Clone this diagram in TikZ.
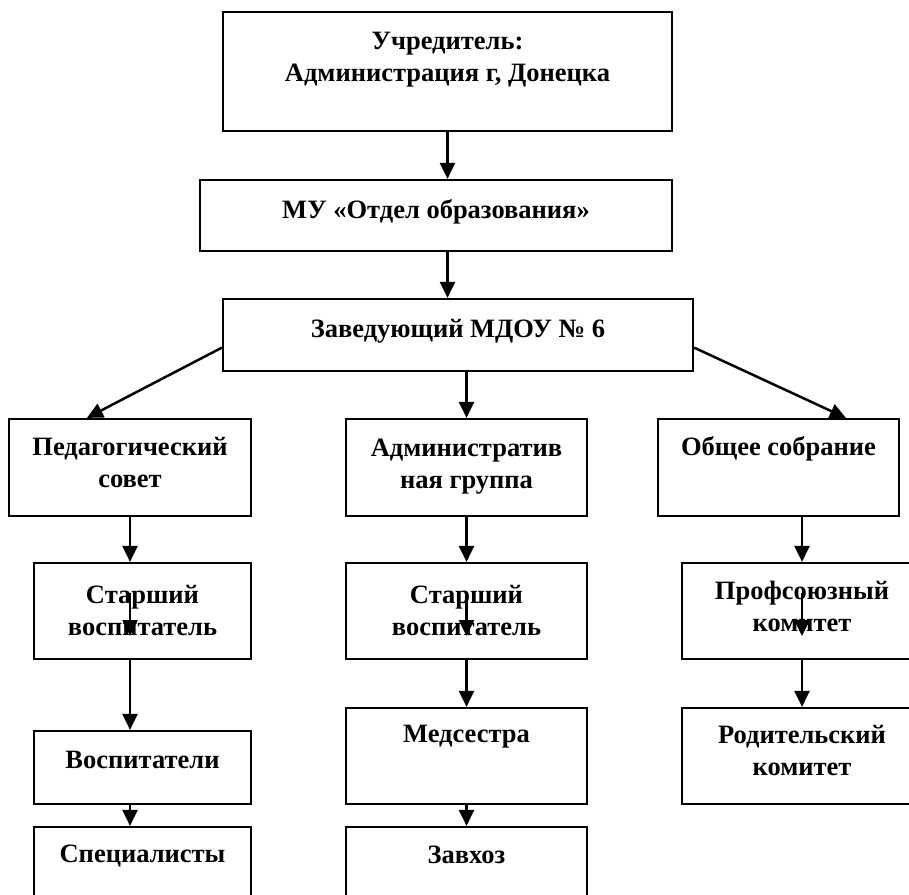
\documentclass[tikz,border=0pt]{standalone}
\usepackage{fontspec}
\setmainfont{Liberation Serif}
\usetikzlibrary{arrows.meta,calc}

\tikzset{
  blok/.style={draw, line width=2.2pt, rectangle, inner sep=0pt},
  txt/.style={align=center, inner sep=0pt, font=\fontsize{26.5}{32}\selectfont\bfseries},
  strelka/.style={line width=2.5pt, -{Triangle[width=15pt,length=16pt]}}
}

\begin{document}
\begin{tikzpicture}[x=1pt,y=-1pt]
  \path[use as bounding box, clip] (0,0) rectangle (909,894);
  % boxes
  \node[blok, minimum width=449pt, minimum height=119pt] (uch) at (447.5,71.5) {};
  \node[blok, minimum width=472pt, minimum height=71pt] (mu) at (436,215.5) {};
  \node[blok, minimum width=470pt, minimum height=72pt] (zav) at (458,335) {};
  \node[blok, minimum width=242pt, minimum height=97pt] (ped) at (130,467.5) {};
  \node[blok, minimum width=217pt, minimum height=96pt] (st1) at (142.5,611) {};
  \node[blok, minimum width=217pt, minimum height=73pt] (vos) at (142.5,767.5) {};
  \node[blok, minimum width=217pt, minimum height=96pt] (spec) at (142.5,875) {};
  \node[blok, minimum width=241pt, minimum height=97pt] (adm) at (466.5,467.5) {};
  \node[blok, minimum width=241pt, minimum height=96pt] (st2) at (466.5,611) {};
  \node[blok, minimum width=241pt, minimum height=96pt] (med) at (466.5,756) {};
  \node[blok, minimum width=241pt, minimum height=96pt] (zavh) at (466.5,875) {};
  \node[blok, minimum width=241pt, minimum height=97pt] (ob) at (778.5,467.5) {};
  \node[blok, minimum width=240pt, minimum height=96pt] (prof) at (802,611) {};
  \node[blok, minimum width=240pt, minimum height=96pt] (rod) at (802,756) {};

  % texts
  \node[txt] (uch-t) at (447.5,60) {Учредитель:\\Администрация г, Донецка};
  \node[txt] (mu-t) at (436,212) {МУ «Отдел образования»};
  \node[txt] (zav-t) at (458,331) {Заведующий МДОУ № 6};
  \node[txt] (ped-t) at (130,462.5) {Педагогический\\совет};
  \node[txt] (st1-t) at (142.5,610) {Старший\\воспитатель};
  \node[txt] (vos-t) at (142.5,760) {Воспитатели};
  \node[txt] (spec-t) at (142.5,856) {Специалисты};
  \node[txt] (adm-t) at (466.5,467) {Административ\\ная группа};
  \node[txt] (st2-t) at (466.5,610) {Старший\\воспитатель};
  \node[txt] (med-t) at (466.5,737) {Медсестра};
  \node[txt] (zavh-t) at (466.5,855) {Завхоз};
  \node[txt] (ob-t) at (778.5,449) {Общее собрание};
  \node[txt] (prof-t) at (802,606) {Профсоюзный\\комитет};
  \node[txt] (rod-t) at (802,750) {Родительский\\комитет};

  % arrows
  \draw[strelka] (uch.south) -- (uch.south |- mu.north);
  \draw[strelka] (uch.south |- mu.south) -- (uch.south |- zav.north);
  \draw[strelka] ($(zav.south west)!0.33!(zav.north west)$) -- ($(ped.north west)+(79,0)$);
  \draw[strelka] (adm.north |- zav.south) -- (adm.north);
  \draw[strelka] ($(zav.south east)!0.33!(zav.north east)$) -- ($(ob.north west)+(189,0)$);

  \draw[strelka] (ped.south) -- (ped.south |- st1.north);
  \draw[strelka] (ped.south |- st1.south) -- (ped.south |- vos.north);
  \draw[strelka] (ped.south |- vos.south) -- (ped.south |- spec.north);
  \draw[strelka] (adm.south) -- (st2.north);
  \draw[strelka] (st2.south) -- (med.north);
  \draw[strelka] (med.south) -- (zavh.north);
  \draw[strelka] (prof.north |- ob.south) -- (prof.north);
  \draw[strelka] (prof.south) -- (rod.north);

  % stray arrows inside the boxes
  \coordinate (st1-a) at (130,593);
  \coordinate (st1-b) at (130,636);
  \coordinate (st2-a) at (466.5,595);
  \coordinate (st2-b) at (466.5,636);
  \coordinate (prof-a) at (802,593);
  \coordinate (prof-b) at (802,636);
  \draw[strelka] (st1-a) -- (st1-b);
  \draw[strelka] (st2-a) -- (st2-b);
  \draw[strelka] (prof-a) -- (prof-b);
\end{tikzpicture}
\end{document}
